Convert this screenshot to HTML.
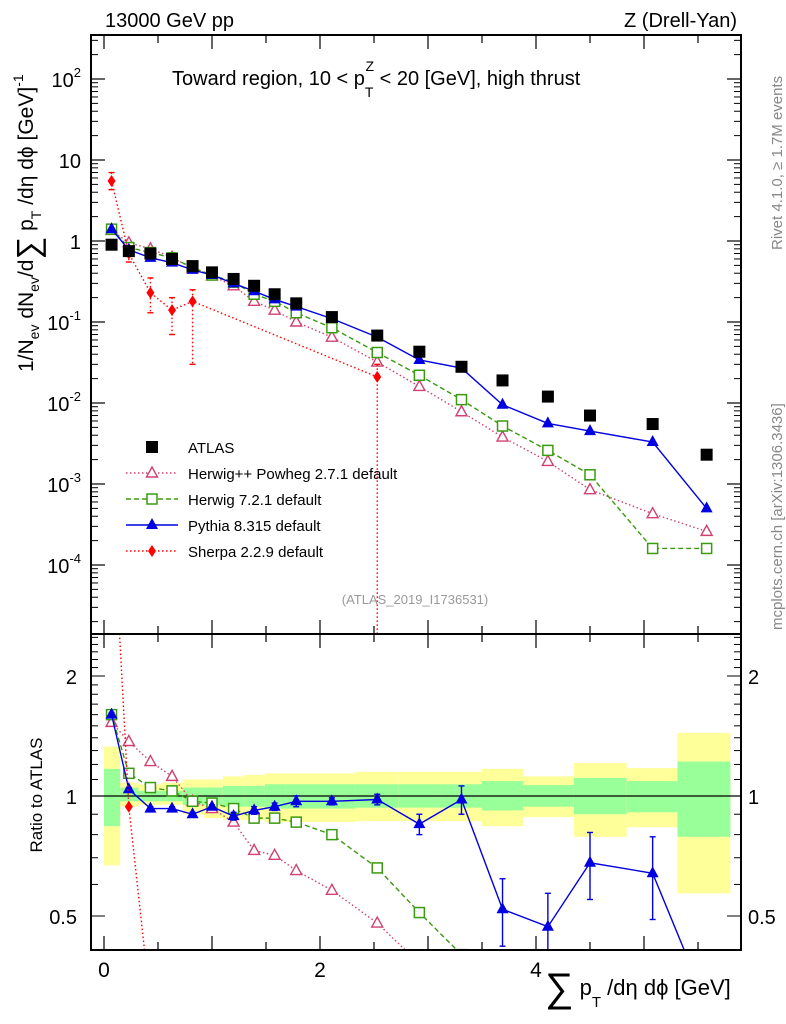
<!DOCTYPE html>
<html><head><meta charset="utf-8"><style>
html,body{margin:0;background:#fff;overflow:hidden;width:786px;height:1024px;}
svg{display:block;}
svg text{font-family:"Liberation Sans",sans-serif;}
</style></head><body>
<svg id="chart" width="786" height="1024" xmlns="http://www.w3.org/2000/svg"></svg>
<script>
const xCenters=[0.07,0.23,0.43,0.63,0.82,1.0,1.2,1.39,1.58,1.78,2.11,2.53,2.92,3.31,3.69,4.11,4.5,5.08,5.58];
const binEdges=[0,0.15,0.32,0.53,0.73,0.92,1.1,1.3,1.49,1.68,1.88,2.33,2.73,3.12,3.5,3.88,4.35,4.84,5.31,5.8];
const atlas=[0.9,0.75,0.7,0.6,0.49,0.41,0.34,0.28,0.22,0.17,0.115,0.068,0.043,0.028,0.019,0.012,0.007,0.0055,0.0023];
const pythia=[1.4,0.78,0.62,0.54,0.44,0.38,0.30,0.24,0.19,0.155,0.11,0.065,0.034,0.027,0.0095,0.0056,0.0045,0.0033,0.0005];
const herwig7=[1.4,0.83,0.72,0.62,0.47,0.38,0.31,0.22,0.18,0.13,0.085,0.042,0.022,0.011,0.0052,0.0026,0.0013,0.00016,0.00016];
const herwigpp=[1.35,0.95,0.8,0.63,0.46,0.37,0.28,0.18,0.14,0.10,0.065,0.032,0.016,0.0078,0.0038,0.0019,0.00085,0.00043,0.00026];
const sherpaX=[0.07,0.23,0.43,0.63,0.82,2.53];
const sherpa=[5.5,0.7,0.23,0.14,0.18,0.021];
const sherpaLo=[4.3,0.55,0.13,0.07,0.03,0.00001];
const sherpaHi=[7.0,0.85,0.35,0.2,0.25,0.03];
const rPythia=[1.6,1.04,0.93,0.93,0.9,0.94,0.89,0.92,0.94,0.97,0.97,0.98,0.85,0.98,0.52,0.47,0.68,0.64,0.3];
const rPythiaErr=[0.02,0.01,0.01,0.01,0.01,0.01,0.02,0.02,0.02,0.03,0.02,0.03,0.05,0.08,0.1,0.1,0.13,0.15,0.1];
const rHerwig7=[1.6,1.14,1.05,1.03,0.97,0.96,0.93,0.88,0.88,0.86,0.80,0.66,0.51,0.40,0.3,0.2,0.15,0.05,0.05];
const rHerwigpp=[1.53,1.37,1.22,1.12,0.97,0.93,0.86,0.73,0.71,0.65,0.58,0.48,0.38,0.28,0.2,0.15,0.12,0.08,0.1];
const rSherpaX=[0.07,0.23,0.43];
const rSherpa=[6,0.94,0.3];
const yelHi=[1.33,1.08,1.07,1.08,1.1,1.1,1.12,1.13,1.14,1.14,1.14,1.15,1.15,1.15,1.17,1.12,1.21,1.175,1.44];
const yelLo=[0.67,0.94,0.95,0.95,0.9,0.88,0.87,0.87,0.86,0.86,0.86,0.865,0.865,0.865,0.84,0.885,0.79,0.835,0.57];
const grnHi=[1.17,1.05,1.03,1.03,1.05,1.05,1.06,1.06,1.07,1.07,1.07,1.07,1.07,1.07,1.09,1.065,1.11,1.09,1.22];
const grnLo=[0.84,0.97,0.97,0.97,0.95,0.95,0.94,0.94,0.93,0.93,0.93,0.935,0.935,0.935,0.92,0.94,0.9,0.91,0.79];
const yTickBase=["10","10","10","10","1","10","10"];
const yTickExp=["-4","-3","-2","-1","","","2"];

const svg=document.getElementById('chart');
const NS='http://www.w3.org/2000/svg';
const L=91,R=741,T=35,M=634,B=950;
const X=v=>104+v*108;
const Y=v=>241-Math.log10(v)*81;
const RY=v=>796-Math.log10(v)*398.6;
function el(tag,attrs,parent){const e=document.createElementNS(NS,tag);for(const k in attrs)e.setAttribute(k,attrs[k]);(parent||svg).appendChild(e);return e;}
function txt(s,x,y,size,anchor,parent,fill){const t=el('text',{x:x,y:y,'font-size':size,'text-anchor':anchor||'start',fill:fill||'#000'},parent);t.textContent=s;return t;}

const defs=el('defs',{});
const c1=el('clipPath',{id:'cm'},defs);el('rect',{x:L,y:T,width:R-L,height:M-T},c1);
const c2=el('clipPath',{id:'cr'},defs);el('rect',{x:L,y:M,width:R-L,height:B-M},c2);
const gm=el('g',{'clip-path':'url(#cm)'});
const gr=el('g',{'clip-path':'url(#cr)'});

for(let i=0;i<xCenters.length;i++){
  const x0=X(binEdges[i]),x1=X(binEdges[i+1]);
  const y=el('rect',{x:x0,y:RY(yelHi[i]),width:x1-x0,height:RY(yelLo[i])-RY(yelHi[i]),fill:'#ffff99'},gr);
  
  const g=el('rect',{x:x0,y:RY(grnHi[i]),width:x1-x0,height:RY(grnLo[i])-RY(grnHi[i]),fill:'#99ff99'},gr);
  
}
el('line',{x1:L,x2:R,y1:RY(1),y2:RY(1),stroke:'#000','stroke-width':1.2},gr);

function marker(type,x,y,color,parent){
  let m;
  if(type==='sq') m=el('rect',{x:x-6,y:y-6,width:12,height:12,fill:'#000'},parent);
  else if(type==='osq') m=el('rect',{x:x-5,y:y-5,width:10,height:10,fill:'#fff',stroke:color,'stroke-width':1.5},parent);
  else if(type==='otri') m=el('path',{d:`M${x} ${y-6}L${x+5.5} ${y+4}L${x-5.5} ${y+4}Z`,fill:'#fff',stroke:color,'stroke-width':1.4},parent);
  else if(type==='tri') m=el('path',{d:`M${x} ${y-7}L${x+6} ${y+4}L${x-6} ${y+4}Z`,fill:color},parent);
  else m=el('path',{d:`M${x} ${y-6}L${x+4} ${y}L${x} ${y+6}L${x-4} ${y}Z`,fill:color},parent);
  return m;
}
function series(name,xs,ys,yf,color,dash,type,parent){
  const g=el('g',{},parent);
  
  
  const pts=xs.map((x,i)=>X(x)+','+yf(ys[i])).join(' ');
  el('polyline',{points:pts,fill:'none',stroke:color,'stroke-width':1.4,'stroke-dasharray':dash||'none'},g);
  xs.forEach((x,i)=>{const m=marker(type,X(x),yf(ys[i]),color,g);});
  return g;
}
function errbar(g,x,y1,y2,color,dash){
  el('line',{x1:x,x2:x,y1:y1,y2:y2,stroke:color,'stroke-width':1.4,'stroke-dasharray':dash||'none'},g);
  el('line',{x1:x-3,x2:x+3,y1:y1,y2:y1,stroke:color,'stroke-width':1.4},g);
  el('line',{x1:x-3,x2:x+3,y1:y2,y2:y2,stroke:color,'stroke-width':1.4},g);
}
series('herwigpp-series',xCenters,herwigpp,Y,'#d04070','1.5,2.5','otri',gm);
series('herwig7-series',xCenters,herwig7,Y,'#3a9a10','5,3','osq',gm);
series('pythia-series',xCenters,pythia,Y,'#0000e0',null,'tri',gm);
const sg=series('sherpa-series',sherpaX,sherpa,Y,'#ff0000','1.5,2.5','dia',gm);
sherpaX.forEach((x,i)=>errbar(sg,X(x),Y(sherpaHi[i]),Y(sherpaLo[i]),'#ff0000','1.5,2.5'));
const ga=el('g',{},gm);
xCenters.forEach((x,i)=>{const m=marker('sq',X(x),Y(atlas[i]),'#000',ga);});
series('herwigpp-ratio',xCenters,rHerwigpp,RY,'#d04070','1.5,2.5','otri',gr);
series('herwig7-ratio',xCenters,rHerwig7,RY,'#3a9a10','5,3','osq',gr);
const pg=series('pythia-ratio',xCenters,rPythia,RY,'#0000e0',null,'tri',gr);
xCenters.forEach((x,i)=>errbar(pg,X(x),RY(rPythia[i]+rPythiaErr[i]),RY(rPythia[i]-rPythiaErr[i]),'#0000e0'));
series('sherpa-ratio',rSherpaX,rSherpa,RY,'#ff0000','1.5,2.5','dia',gr);

el('rect',{x:L,y:T,width:R-L,height:M-T,fill:'none',stroke:'#000','stroke-width':2});
el('rect',{x:L,y:M,width:R-L,height:B-M,fill:'none',stroke:'#000','stroke-width':2});
for(let v=0;v<=5.8;v+=0.5){
  const major=Math.abs(v-Math.round(v))<0.01;
  const len=major?14:8;
  [[T,1],[M,-1],[M,1],[B,-1]].forEach(([y,d])=>el('line',{x1:X(v),x2:X(v),y1:y,y2:y+d*len,stroke:'#000','stroke-width':1.2}));
}
for(let v=0;v<=4;v+=2){const t=txt(String(v),X(v),977,21,'middle');}
for(let e=-5;e<=2;e++){
  const yy=Y(Math.pow(10,e));
  if(yy>=T&&yy<=M){el('line',{x1:L,x2:L+14,y1:yy,y2:yy,stroke:'#000','stroke-width':1.2});el('line',{x1:R,x2:R-14,y1:yy,y2:yy,stroke:'#000','stroke-width':1.2});}
  for(let k=2;k<10;k++){const ym=Y(k*Math.pow(10,e));if(ym>T&&ym<M){el('line',{x1:L,x2:L+7,y1:ym,y2:ym,stroke:'#000'});el('line',{x1:R,x2:R-7,y1:ym,y2:ym,stroke:'#000'});}}
}
yTickBase.forEach((b,i)=>{
  const yy=Y(Math.pow(10,i-4));
  const ex=yTickExp[i];
  const t=el('text',{x:L-10,y:yy+8,'font-size':20,'text-anchor':'end'});
  
  
  if(ex) t.innerHTML=b+'<tspan font-size="13" dy="-10">'+ex+'</tspan>';
  else t.textContent=b;
});
[0.4,0.5,0.6,0.7,0.8,0.9,1,1.1,1.2,1.3,1.4,1.5,1.6,1.7,1.8,1.9,2,2.1,2.2,2.3,2.4,2.5].forEach(v=>{
  const yy=RY(v);if(yy<M||yy>B)return;
  const major=(v===0.5||v===1||v===2);const len=major?14:7;
  el('line',{x1:L,x2:L+len,y1:yy,y2:yy,stroke:'#000'});el('line',{x1:R,x2:R-len,y1:yy,y2:yy,stroke:'#000'});
});
[['0.5',0.5],['1',1],['2',2]].forEach(([s,v])=>{
  const a=txt(s,77,RY(v)+8,20,'end');
  const b=txt(s,748,RY(v)+8,20,'start');
});
let t=txt('13000 GeV pp',105,27,20);
t=txt('Z (Drell-Yan)',737,27,20,'end');
const st=el('text',{x:172,y:85,'font-size':20});
st.innerHTML='Toward region, 10 &lt; p<tspan font-size="14" dy="12">T</tspan><tspan font-size="14" dx="-8" dy="-26">Z</tspan><tspan dy="14"> &lt; 20 [GeV], high thrust</tspan>';
const yl=el('text',{transform:'translate(33,372) rotate(-90)','font-size':21});
yl.innerHTML='1/N<tspan font-size="14" dy="6">ev</tspan><tspan dy="-6"> dN</tspan><tspan font-size="14" dy="6">ev</tspan><tspan dy="-6">/d</tspan><tspan font-size="32" dy="6">∑</tspan><tspan dy="-6"> p</tspan><tspan font-size="14" dy="8">T</tspan><tspan dy="-8"> /dη dϕ  [GeV]</tspan><tspan font-size="14" dy="-10">-1</tspan>';
t=txt('Ratio to ATLAS',0,0,17,'middle');t.setAttribute('transform','translate(42,795) rotate(-90)');
const xl=el('text',{x:545,y:995,'font-size':22});
xl.innerHTML='<tspan font-size="40" dy="6">∑</tspan><tspan dy="-6"> p</tspan><tspan font-size="15" dy="12">T</tspan><tspan dy="-12"> /dη dϕ [GeV]</tspan>';
t=txt('Rivet 4.1.0, ≥ 1.7M events',0,0,15,'start',null,'#888');t.setAttribute('transform','translate(782,250) rotate(-90)');
t=txt('mcplots.cern.ch [arXiv:1306.3436]',0,0,15,'start',null,'#888');t.setAttribute('transform','translate(782,630) rotate(-90)');
t=txt('(ATLAS_2019_I1736531)',415,604,13,'middle',null,'#999');
const leg=el('g',{});
const entries=[['ATLAS','sq','#000',null],['Herwig++ Powheg 2.7.1 default','otri','#d04070','1.5,2.5'],['Herwig 7.2.1 default','osq','#3a9a10','5,3'],['Pythia 8.315 default','tri','#0000e0',null],['Sherpa 2.2.9 default','dia','#ff0000','1.5,2.5']];
entries.forEach((e,i)=>{
  const y=447+i*26;
  const g=el('g',{},leg);
  if(i>0)el('line',{x1:126,x2:178,y1:y,y2:y,stroke:e[2],'stroke-width':1.4,'stroke-dasharray':e[3]||'none'},g);
  marker(e[1],152,y,e[2],g);
  txt(e[0],188,y+6,15,'start',g);
});
</script>
</body></html>
